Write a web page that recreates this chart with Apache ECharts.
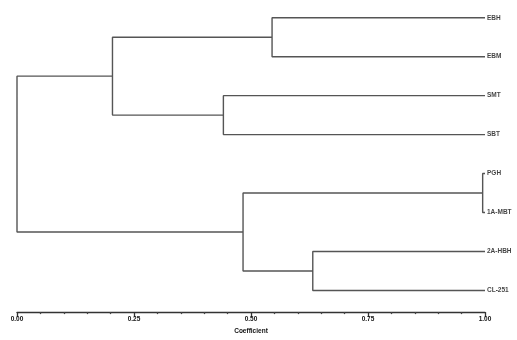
<!DOCTYPE html>
<html>
<head>
<meta charset="utf-8">
<script src="https://cdn.jsdelivr.net/npm/echarts@6/dist/echarts.min.js"></script>
<style>html,body{margin:0;padding:0;background:#fff;}#c{width:517px;height:340px;}</style>
</head>
<body>
<div id="c"></div>
<script>
// Leaves (top to bottom)
const leafLabels = ['EBH', 'EBM', 'SMT', 'SBT', 'PGH', '1A-MBT', '2A-HBH', 'CL-251'];
// Merges: ids 0..7 are leaves, merge k gets id 8+k
const mergeLeft   = [2, 0, 6, 4, 9, 11, 12];
const mergeRight  = [3, 1, 7, 5, 8, 10, 13];
const mergeHeight = [0.441, 0.545, 0.632, 0.995, 0.204, 0.483, 0.0];
// Axis ticks
const tickValues = [0, 0.25, 0.5, 0.75, 1.0];
const tickLabels = ['0.00', '0.25', '0.50', '0.75', '1.00'];
const axisTitle = 'Coefficient';

// build node coordinates
const nodeX = [], nodeY = [];
leafLabels.forEach((l, i) => { nodeX[i] = 1.0; nodeY[i] = i; });
const segs = [];
mergeHeight.forEach((h, k) => {
  const id = leafLabels.length + k;
  const a = mergeLeft[k], b = mergeRight[k];
  nodeX[id] = h;
  nodeY[id] = (nodeY[a] + nodeY[b]) / 2;
  segs.push([nodeX[a], nodeY[a]], [h, nodeY[a]], [h, nodeY[b]], [nodeX[b], nodeY[b]], '-');
});

const chart = echarts.init(document.getElementById('c'), null, {renderer: 'canvas'});
chart.setOption({
  animation: false,
  backgroundColor: '#fff',
  grid: {left: 17, right: 32, top: 0, bottom: 23, containLabel: false},
  xAxis: {
    type: 'value', min: 0, max: 1, interval: 0.25, position: 'bottom',
    axisLine: {show: true, onZero: false, lineStyle: {color: '#333', width: 1.3}},
    axisTick: {show: true, length: 5, inside: false, lineStyle: {color: '#333', width: 1.3}},
    minorTick: {show: true, splitNumber: 5, length: 2, lineStyle: {color: '#444', width: 1.3}},
    splitLine: {show: false},
    axisLabel: {
      fontSize: 6.5, fontWeight: 'bold', color: '#111', fontFamily: 'Liberation Sans', margin: 4,
      formatter: v => { const i = tickValues.findIndex(t => Math.abs(t - v) < 1e-6); return i >= 0 ? tickLabels[i] : ''; }
    },
    name: axisTitle, nameLocation: 'middle', nameGap: 14,
    nameTextStyle: {fontSize: 6.5, fontWeight: 'bold', color: '#111', fontFamily: 'Liberation Sans'}
  },
  yAxis: {
    type: 'value', min: -0.455, max: 7.556, inverse: true, show: false
  },
  series: [
    {
      type: 'line', data: segs, showSymbol: false, symbol: 'none', connectNulls: false,
      lineStyle: {color: '#555', width: 1.4}, clip: false
    },
    {
      type: 'scatter', symbolSize: 0, clip: false,
      data: leafLabels.map((l, i) => ({value: [1.0, i], name: l})),
      label: {
        show: true, position: 'right', distance: 2, formatter: p => p.name,
        fontSize: 6.5, fontWeight: 'bold', color: '#111', fontFamily: 'Liberation Sans'
      }
    }
  ]
});
</script>
</body>
</html>
